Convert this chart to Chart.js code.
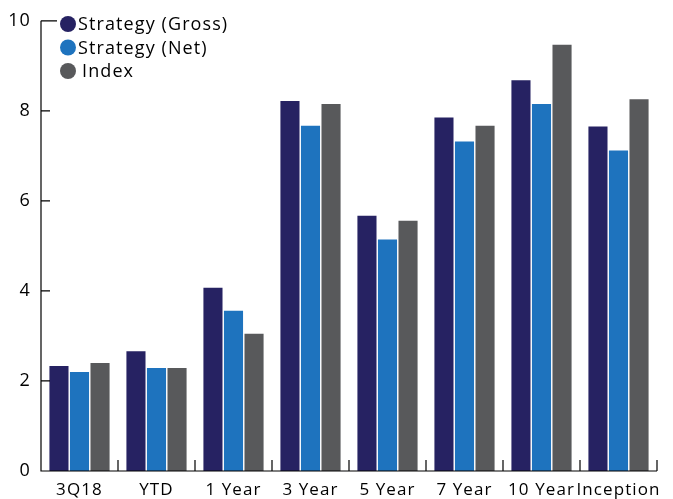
<!DOCTYPE html>
<html>
<head>
<meta charset="utf-8">
<script src="https://cdn.jsdelivr.net/npm/chart.js@4"></script>
<style>
  html, body { margin: 0; padding: 0; background: #fff; }
  #wrap { width: 673px; height: 499px; position: relative; }
</style>
</head>
<body>
<div id="wrap"><canvas id="perfChart"></canvas></div>
<script>
const periods = ['3Q18', 'YTD', '1 Year', '3 Year', '5 Year', '7 Year', '10 Year', 'Inception'];
const gross = [2.33, 2.66, 4.07, 8.22, 5.67, 7.85, 8.68, 7.65];
const net = [2.20, 2.29, 3.56, 7.67, 5.14, 7.32, 8.15, 7.12];
const index = [2.40, 2.29, 3.05, 8.15, 5.56, 7.67, 9.47, 8.26];
const seriesNames = ['Strategy (Gross)', 'Strategy (Net)', 'Index'];
const colors = ['#262262', '#1e73be', '#58595b'];

const FONT = '"Open Sans", sans-serif';
const SPACING = '1.1px';

// wider lettering like the original
const spacing = {
    id: 'spacing',
    beforeDraw(chart) { chart.ctx.letterSpacing = SPACING; }
};

// ticks drawn inward, like the original
const axisMarks = {
    id: 'axisMarks',
    afterDraw(chart) {
        const ctx = chart.ctx;
        const x = chart.scales.x, y = chart.scales.y;
        const area = chart.chartArea;
        ctx.save();
        ctx.strokeStyle = '#000';
        ctx.lineWidth = 1.2;
        ctx.beginPath();
        ctx.moveTo(area.left, y.getPixelForValue(10));
        ctx.lineTo(area.left, area.bottom);
        ctx.lineTo(area.right, area.bottom);
        [2, 4, 6, 8].forEach(v => {
            const py = y.getPixelForValue(v);
            ctx.moveTo(area.left, py);
            ctx.lineTo(area.left + 9, py);
        });
        const top = y.getPixelForValue(10);
        ctx.moveTo(area.left, top);
        ctx.lineTo(area.left + 16, top);
        const step = x.getPixelForValue(1) - x.getPixelForValue(0);
        for (let i = 1; i <= periods.length; i++) {
            const px = x.getPixelForValue(i) - step / 2;
            ctx.moveTo(px, area.bottom);
            ctx.lineTo(px, area.bottom - 11);
        }
        ctx.stroke();

        // legend
        ctx.letterSpacing = SPACING;
        ctx.font = '18px ' + FONT;
        ctx.textBaseline = 'middle';
        seriesNames.forEach((name, i) => {
            const cy = 24 + i * 23.5;
            ctx.beginPath();
            ctx.fillStyle = chart.data.datasets[i].backgroundColor;
            ctx.arc(68, cy, 8, 0, Math.PI * 2);
            ctx.fill();
            ctx.fillStyle = '#000';
            ctx.fillText(name, i === 2 ? 82 : 78, cy + 1);
        });
        ctx.restore();
    }
};

new Chart(document.getElementById('perfChart'), {
    type: 'bar',
    data: {
        labels: periods,
        datasets: [
            { label: seriesNames[0], data: gross, backgroundColor: colors[0] },
            { label: seriesNames[1], data: net, backgroundColor: colors[1] },
            { label: seriesNames[2], data: index, backgroundColor: colors[2] }
        ]
    },
    options: {
        responsive: true,
        maintainAspectRatio: false,
        animation: false,
        layout: { padding: { top: 16, right: 16, left: 0, bottom: 0 } },
        datasets: { bar: { barPercentage: 0.93, categoryPercentage: 0.8 } },
        plugins: { legend: { display: false }, tooltip: { enabled: false } },
        scales: {
            x: {
                grid: { display: false, drawTicks: false },
                border: { display: false },
                ticks: { color: '#000', font: { family: FONT, size: 17 }, padding: 9, maxRotation: 0, autoSkip: false },
                afterFit: s => { s.height = 28; }
            },
            y: {
                min: 0, max: 10,
                grid: { display: false, drawTicks: false },
                border: { display: false },
                ticks: { stepSize: 2, color: '#000', font: { family: FONT, size: 18 }, padding: 10 },
                afterFit: s => { s.width = 41; }
            }
        }
    },
    plugins: [spacing, axisMarks]
});
</script>
</body>
</html>
